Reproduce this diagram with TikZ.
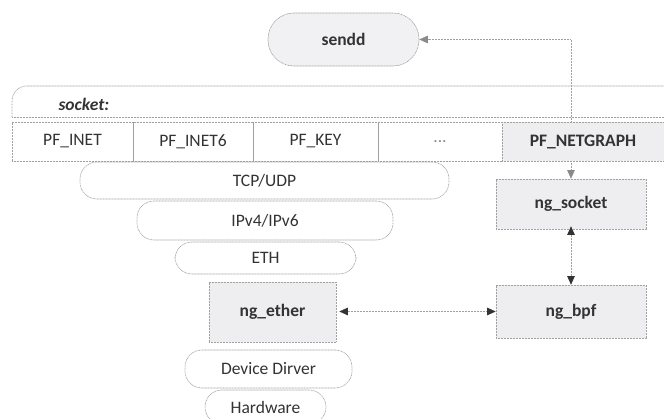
\documentclass[tikz,border=0pt]{standalone}
\usepackage{fontspec}
\setmainfont{Carlito}
\usetikzlibrary{arrows.meta}
\definecolor{boxfill}{HTML}{EEEEF1}
\definecolor{edge}{HTML}{A0A0A0}
\definecolor{ink}{HTML}{333333}
\definecolor{soft}{HTML}{8A8A8A}
\begin{document}
\begin{tikzpicture}[x=1pt,y=-1pt,
  font=\fontsize{17.5}{20}\selectfont, text=ink,
  outline/.style={draw=edge, line width=0.6pt, dash pattern=on 0.9pt off 0.6pt},
  pill/.style={outline, rounded corners=17pt, inner sep=0pt},
  cell/.style={outline, inner sep=0pt, minimum height=39},
  ngbox/.style={outline, fill=boxfill, inner sep=0pt,
    font=\fontsize{17.5}{20}\selectfont\bfseries},
  link/.style={draw=edge, line width=0.6pt, dash pattern=on 0.9pt off 0.6pt},
  tri/.tip={Triangle[length=8.5pt,width=7.5pt,color=ink]},
  trisoft/.tip={Triangle[length=8.5pt,width=7.5pt,color=soft]},
]
\useasboundingbox (0,0) rectangle (664,419);
\clip (0,0) rectangle (664,419);

% daemon in user space
\node[ngbox, rounded corners=26pt, fill=boxfill!80!white,
  minimum width=151, minimum height=53] (sendd) at (343.5,39.5) {sendd};

% socket layer header
\draw[outline] (12,117) [rounded corners=15pt] -- (12,86) [sharp corners] -- (690,86);
\draw[outline] (12,117) -- (690,117);
\node[anchor=west, font=\fontsize{17.5}{20}\selectfont\bfseries\itshape] (socklbl)
  at (55,104) {socket:};

% protocol families
\node[cell, minimum width=121] (inet)  at (72.5,141.5) {PF\_INET};
\node[cell, minimum width=120] (inet6) at (193,141.5)  {PF\_INET6};
\node[cell, minimum width=125] (key)   at (315.5,141.5) {PF\_KEY};
\node[cell, minimum width=124, text=soft] (more) at (440,141.5) {...};
\node[cell, fill=boxfill, minimum width=188, anchor=west] (netgraph) at (502,141.5) {};
\node[font=\fontsize{17.5}{20}\selectfont\bfseries] (netlbl) at (583,141.5) {PF\_NETGRAPH};

% kernel stack
\node[pill, minimum width=369, minimum height=37] (tcp)  at (264.5,180.5) {TCP/UDP};
\node[pill, minimum width=256, minimum height=39] (ip)   at (265,220.5)   {IPv4/IPv6};
\node[pill, minimum width=181, minimum height=32] (eth)  at (265.5,258)   {ETH};
\node[ngbox, minimum width=127, minimum height=60] (ngether) at (272.5,312) {ng\_ether};
\node[pill, minimum width=167, minimum height=38] (drv)  at (268.5,369)   {Device Dirver};
\node[pill, minimum width=121, minimum height=34] (hw)   at (265.5,407)   {Hardware};

% netgraph nodes
\node[ngbox, minimum width=150, minimum height=50] (ngsocket) at (571,204) {ng\_socket};
\node[ngbox, minimum width=150, minimum height=53] (ngbpf)    at (571,311.5) {ng\_bpf};

% connectors
\draw[link, -trisoft] (ngsocket |- netgraph.north) -- (ngsocket |- sendd.east) -- (sendd.east);
\draw[link, -trisoft] (ngsocket |- netgraph.south) -- (ngsocket.north);
\draw[link, tri-tri] ([yshift=3pt]ngsocket.south) -- (ngbpf.north);
\draw[link, tri-tri] ([xshift=3pt]ngether.east |- ngbpf.west) -- (ngbpf.west);
\end{tikzpicture}
\end{document}
